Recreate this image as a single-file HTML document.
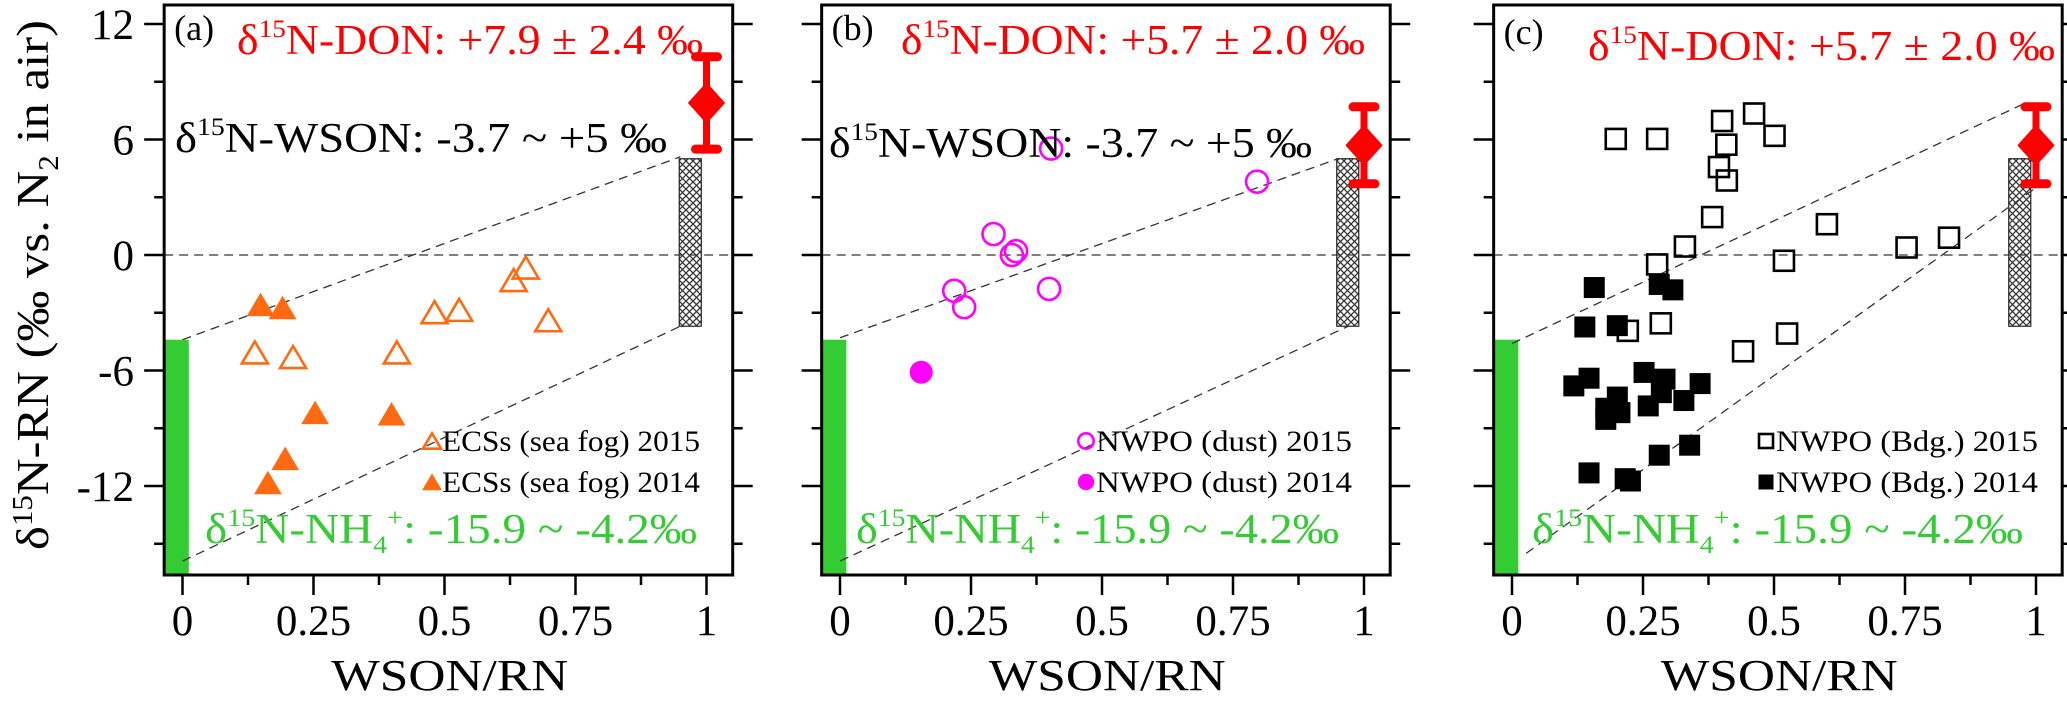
<!DOCTYPE html>
<html><head><meta charset="utf-8"><style>
html,body{margin:0;padding:0;background:#fff;}
svg{display:block;font-family:"Liberation Serif",serif;}
</style></head><body>
<svg id="fig" width="2067" height="713" viewBox="0 0 2067 713" xmlns="http://www.w3.org/2000/svg">
<defs>
<pattern id="hatch" width="7" height="7" patternUnits="userSpaceOnUse">
<rect width="7" height="7" fill="#fff"/>
<path d="M0,0 L7,7 M7,0 L0,7" stroke="#333" stroke-width="1.3"/>
</pattern>
</defs>
<text transform="translate(48,285) rotate(-90)" text-anchor="middle" font-size="46" textLength="530" lengthAdjust="spacingAndGlyphs">δ<tspan font-size="28" dy="-16">15</tspan><tspan dy="16">N-RN (‰ vs. N</tspan><tspan font-size="28" dy="10">2</tspan><tspan dy="-10"> in air)</tspan></text>
</svg>
<script>
const yMajorTicks = [12, 6, 0, -6, -12];
const yMinorTicks = [9, 3, -3, -9, -15];
const yLabels = ["12", "6", "0", "-6", "-12"];
const yLabelVals = [12, 6, 0, -6, -12];
const xLabels = ["0", "0.25", "0.5", "0.75", "1"];
const xLabelVals = [0, 0.25, 0.5, 0.75, 1];
const panelLetters = ["(a)", "(b)", "(c)"];
const donMean = [7.9, 5.7, 5.7];
const donSd = [2.4, 2.0, 2.0];
const donText = ["+7.9 ± 2.4 ‰", "+5.7 ± 2.0 ‰", "+5.7 ± 2.0 ‰"];
const wsonRange = [-3.7, 5];
const nh4Top = -4.4;
// panel (a): ECSs sea fog
const aOpenX = [0.138, 0.211, 0.409, 0.481, 0.528, 0.632, 0.655, 0.698];
const aOpenY = [-5.06, -5.3, -5.06, -2.97, -2.85, -1.3, -0.65, -3.39];
const aFillX = [0.149, 0.191, 0.253, 0.399, 0.196, 0.163];
const aFillY = [-2.58, -2.74, -8.19, -8.26, -10.58, -11.83];
// panel (b): NWPO dust
const bOpenX = [0.403, 0.796, 0.293, 0.336, 0.328, 0.218, 0.237, 0.399];
const bOpenY = [5.53, 3.81, 1.09, 0.2, 0.0, -1.86, -2.71, -1.76];
const bFillX = [0.155];
const bFillY = [-6.09];
// panel (c): NWPO buildings
const cOpenX = [0.198, 0.277, 0.401, 0.462, 0.501, 0.409, 0.395, 0.410, 0.382, 0.330, 0.277, 0.519, 0.601, 0.753, 0.834, 0.284, 0.221, 0.525, 0.441];
const cOpenY = [6.03, 6.03, 6.96, 7.35, 6.19, 5.73, 4.57, 3.87, 1.97, 0.44, -0.49, -0.30, 1.6, 0.39, 0.9, -3.55, -3.94, -4.08, -5.0];
const cFillX = [0.157, 0.281, 0.307, 0.139, 0.201, 0.147, 0.118, 0.252, 0.292, 0.285, 0.359, 0.328, 0.260, 0.201, 0.179, 0.206, 0.179, 0.339, 0.281, 0.147, 0.216, 0.226];
const cFillY = [-1.69, -1.53, -1.81, -3.74, -3.67, -6.4, -6.8, -6.1, -6.45, -7.15, -6.68, -7.56, -7.84, -7.38, -7.96, -8.19, -8.54, -9.88, -10.4, -11.32, -11.62, -11.74];
// mixing lines [x1,y1,x2,y2] per panel
const upperLineA = [0, -4.4, 0.95, 5.1];
const lowerLineA = [0, -15.9, 0.95, -3.7];
const upperLineB = [0, -4.3, 0.95, 5.0];
const lowerLineB = [0, -15.9, 0.97, -3.7];
const upperLineC = [0, -4.6, 0.98, 7.9];
const lowerLineC = [0.027, -15.5, 1.0, 3.5];

const NS = "http://www.w3.org/2000/svg";
const svg = document.getElementById("fig");
const X0 = [182.5, 840, 1512];
const UNIT = 524;
const TOP = 5, BOT = 575;
function yS(v){ return 255 - 19.25 * v; }
function mk(tag, attrs, parent){
  const e = document.createElementNS(NS, tag);
  for (const k in attrs) e.setAttribute(k, attrs[k]);
  (parent || svg).appendChild(e);
  return e;
}
const panels = [
  {open: [aOpenX, aOpenY], fill: [aFillX, aFillY], up: upperLineA, lo: lowerLineA, kind: "tri", color: "#ff6a10", leg: ["ECSs (sea fog) 2015", "ECSs (sea fog) 2014"], legX: 442, legW: 258},
  {open: [bOpenX, bOpenY], fill: [bFillX, bFillY], up: upperLineB, lo: lowerLineB, kind: "circ", color: "#ff00ff", leg: ["NWPO (dust)  2015", "NWPO (dust)  2014"], legX: 1096, legW: 256},
  {open: [cOpenX, cOpenY], fill: [cFillX, cFillY], up: upperLineC, lo: lowerLineC, kind: "sq", color: "#000", leg: ["NWPO (Bdg.) 2015", "NWPO (Bdg.) 2014"], legX: 1776, legW: 262}
];
function marker(kind, cx, cy, filled, color, g, scale){
  const s = scale || 1;
  let e;
  if (kind === "tri") {
    const w = 13 * s, h = 11 * s;
    e = mk("polygon", {points: `${cx},${cy-h} ${cx+w},${cy+h} ${cx-w},${cy+h}`}, g);
  } else if (kind === "circ") {
    e = mk("circle", {cx: cx, cy: cy, r: 11 * s}, g);
  } else {
    const w = 10 * s;
    e = mk("rect", {x: cx - w, y: cy - w, width: 2 * w, height: 2 * w}, g);
  }
  e.setAttribute("fill", filled ? color : "none");
  e.setAttribute("stroke", color);
  e.setAttribute("stroke-width", filled ? 1 : 2.6);
  return e;
}
panels.forEach((p, i) => {
  const x0 = X0[i];
  const xS = u => x0 + UNIT * u;
  const L = xS(-0.035), R = xS(1.05);
  const g = mk("g", {});
  
  
  const gb = mk("rect", {x: L, y: yS(nh4Top), width: xS(0.012) - L, height: BOT - yS(nh4Top), fill: "#33cc33"}, g);
  
  
  const hb = mk("rect", {x: xS(0.948), y: yS(wsonRange[1]), width: xS(0.99) - xS(0.948), height: yS(wsonRange[0]) - yS(wsonRange[1]), fill: "url(#hatch)", stroke: "#222", "stroke-width": 1.2}, g);
  
  
  const zl = mk("line", {x1: L, x2: R, y1: yS(0), y2: yS(0), stroke: "#333", "stroke-width": 1.3, "stroke-dasharray": "9,6"}, g);
  
  
  [p.up, p.lo].forEach((ln, k) => {
    const d = mk("line", {x1: xS(ln[0]), y1: yS(ln[1]), x2: xS(ln[2]), y2: yS(ln[3]), stroke: "#333", "stroke-width": 1.3, "stroke-dasharray": "9,6"}, g);
    
    
  });
  const ex = xS(1.0), m = donMean[i], sd = donSd[i];
  const eg = mk("g", {fill: "#ff0000", stroke: "#ff0000"}, g);
  
  
  mk("line", {x1: ex, x2: ex, y1: yS(m + sd), y2: yS(m - sd), "stroke-width": 7}, eg);
  mk("line", {x1: ex - 11, x2: ex + 11, y1: yS(m + sd), y2: yS(m + sd), "stroke-width": 9, "stroke-linecap": "round"}, eg);
  mk("line", {x1: ex - 11, x2: ex + 11, y1: yS(m - sd), y2: yS(m - sd), "stroke-width": 9, "stroke-linecap": "round"}, eg);
  mk("polygon", {points: `${ex},${yS(m)-20} ${ex+18},${yS(m)} ${ex},${yS(m)+20} ${ex-18},${yS(m)}`, "stroke-width": 1, "stroke-linejoin": "round"}, eg);
  const og = mk("g", {}, g);
  
  
  p.open[0].forEach((u, j) => {
    const e = marker(p.kind, xS(u), yS(p.open[1][j]), false, p.color, og);
    
    
  });
  const fg = mk("g", {}, g);
  
  
  p.fill[0].forEach((u, j) => {
    const e = marker(p.kind, xS(u), yS(p.fill[1][j]), true, p.color, fg);
    
    
  });
  const fr = mk("rect", {x: L, y: TOP, width: R - L, height: BOT - TOP, fill: "none", stroke: "#000", "stroke-width": 3}, g);
  
  
  yMajorTicks.forEach(v => {
    mk("line", {x1: L - 20, x2: L, y1: yS(v), y2: yS(v), stroke: "#000", "stroke-width": 2.5}, g);
    mk("line", {x1: R, x2: R + 20, y1: yS(v), y2: yS(v), stroke: "#000", "stroke-width": 2.5}, g);
  });
  yMinorTicks.forEach(v => {
    mk("line", {x1: L - 10, x2: L, y1: yS(v), y2: yS(v), stroke: "#000", "stroke-width": 2.5}, g);
    mk("line", {x1: R, x2: R + 10, y1: yS(v), y2: yS(v), stroke: "#000", "stroke-width": 2.5}, g);
  });
  for (let k = 0; k <= 8; k++) {
    const u = k * 0.125;
    mk("line", {x1: xS(u), x2: xS(u), y1: BOT, y2: BOT + (k % 2 === 0 ? 20 : 10), stroke: "#000", "stroke-width": 2.5}, g);
  }
  xLabels.forEach((t, k) => {
    const e = mk("text", {x: xS(xLabelVals[k]), y: 635, "text-anchor": "middle", "font-size": 43}, g);
    e.textContent = t;
    
    
  });
  const xt = mk("text", {x: xS(0.51), y: 690, "text-anchor": "middle", "font-size": 44, textLength: 237, lengthAdjust: "spacingAndGlyphs"}, g);
  xt.textContent = "WSON/RN";
  
  
  if (i === 0) {
    yLabels.forEach((t, k) => {
      const e = mk("text", {x: 134, y: yS(yLabelVals[k]) + 15, "text-anchor": "end", "font-size": 43}, g);
      e.textContent = t;
      
      
    });
  }
  const pl = mk("text", {x: L + 10, y: i === 2 ? 44 : 40, "font-size": 36}, g);
  pl.textContent = panelLetters[i];
  
  
  const donX = [237, 901, 1588][i], donEnd = [703, 1365, 2055][i];
  const dt = mk("text", {x: donX, y: i === 2 ? 60 : 54, "font-size": 42, fill: "#ff0000", textLength: donEnd - donX, lengthAdjust: "spacingAndGlyphs"}, g);
  dt.innerHTML = 'δ<tspan font-size="25" dy="-17">15</tspan><tspan dy="17">N-DON: ' + donText[i] + '</tspan>';
  
  
  if (i < 2) {
    const wx = [175, 829][i], we = [667, 1312][i];
    const wt = mk("text", {x: wx, y: [152, 157][i], "font-size": 42, textLength: we - wx, lengthAdjust: "spacingAndGlyphs"}, g);
    wt.innerHTML = 'δ<tspan font-size="25" dy="-17">15</tspan><tspan dy="17">N-WSON: -3.7 ~ +5 ‰</tspan>';
    
    
  }
  const nx = [205, 856, 1532][i], ne = [697, 1339, 2023][i];
  const nt = mk("text", {x: nx, y: 543, "font-size": 42, fill: "#33cc33", textLength: ne - nx, lengthAdjust: "spacingAndGlyphs"}, g);
  nt.innerHTML = 'δ<tspan font-size="25" dy="-17">15</tspan><tspan dy="17">N-NH</tspan><tspan font-size="25" dy="10">4</tspan><tspan font-size="25" dy="-27">+</tspan><tspan dy="17">: -15.9 ~ -4.2‰</tspan>';
  
  
  p.leg.forEach((t, k) => {
    const by = [451, 492][k];
    const lg = mk("g", {}, g);
    
    
    marker(p.kind, p.legX - 10, by - 10, k === 1, p.color, lg, 0.7);
    const lt = mk("text", {x: p.legX, y: by, "font-size": 30, textLength: p.legW, lengthAdjust: "spacingAndGlyphs"}, lg);
    lt.textContent = t;
  });
});
</script>
</body></html>
